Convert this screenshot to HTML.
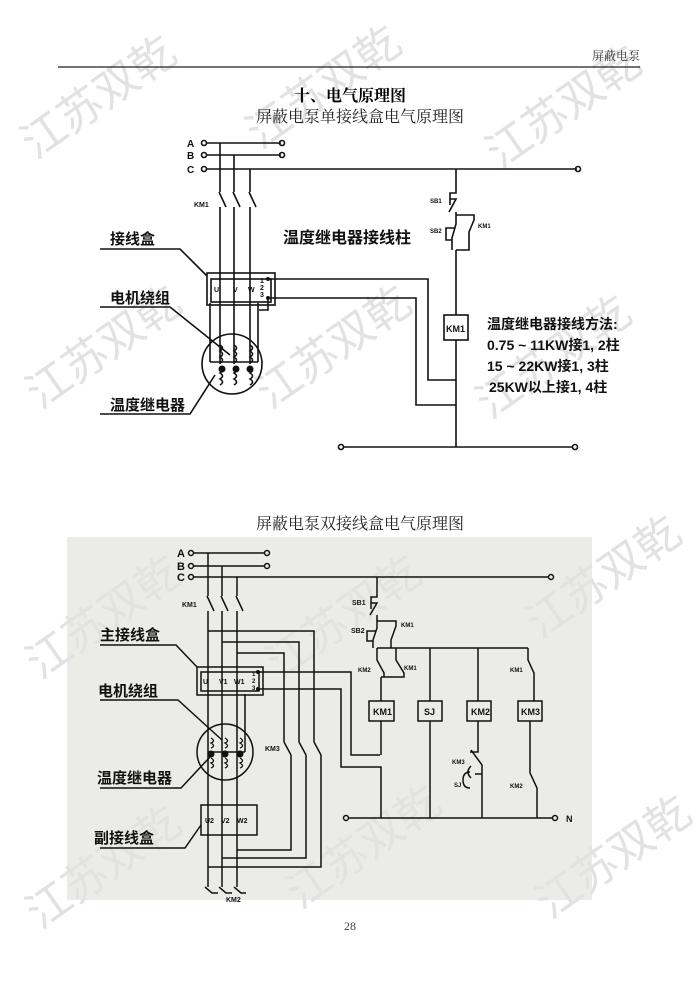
<!DOCTYPE html>
<html><head><meta charset="utf-8"><style>
html,body{margin:0;padding:0;background:#fff;}
svg{display:block;}
text{font-family:"Liberation Sans","Noto Sans CJK SC",sans-serif;}
.s{font-family:"Liberation Serif","Noto Serif CJK SC",serif;}
.w{font-family:"Noto Serif CJK SC","WenQuanYi Zen Hei",serif;fill:#e2e2e2;font-size:44px;}
</style></head><body>
<svg width="700" height="989" viewBox="0 0 700 989" xmlns="http://www.w3.org/2000/svg">
<rect width="700" height="989" fill="#fff"/>
<rect x="67" y="537" width="525" height="363" fill="#ebebe8"/>
<g class="w">
<text transform="translate(35,160) rotate(-35)">江苏双乾</text>
<text transform="translate(260,150) rotate(-35)">江苏双乾</text>
<text transform="translate(500,170) rotate(-35)">江苏双乾</text>
<text transform="translate(40,410) rotate(-35)">江苏双乾</text>
<text transform="translate(270,410) rotate(-35)">江苏双乾</text>
<text transform="translate(490,420) rotate(-35)">江苏双乾</text>
<text transform="translate(40,680) rotate(-35)">江苏双乾</text>
<text transform="translate(280,680) rotate(-35)">江苏双乾</text>
<text transform="translate(540,640) rotate(-35)">江苏双乾</text>
<text transform="translate(40,930) rotate(-35)">江苏双乾</text>
<text transform="translate(300,910) rotate(-35)">江苏双乾</text>
<text transform="translate(550,920) rotate(-35)">江苏双乾</text>
</g>
<text class="s" x="640" y="60" font-size="12" text-anchor="end" fill="#333">屏蔽电泵</text>
<line x1="58" y1="67" x2="640" y2="67" stroke="#222" stroke-width="1.2"/>
<text class="s" x="350" y="101" font-size="16" font-weight="bold" text-anchor="middle">十、电气原理图</text>
<text class="s" x="360" y="122" font-size="16" text-anchor="middle" fill="#222">屏蔽电泵单接线盒电气原理图</text>
<text class="s" x="360" y="529" font-size="16" text-anchor="middle" fill="#222">屏蔽电泵双接线盒电气原理图</text>
<text class="s" x="350" y="930" font-size="12" text-anchor="middle" fill="#444">28</text>

<g stroke="#111" stroke-width="1.6" fill="none">
<line x1="206" y1="143" x2="281" y2="143"/>
<line x1="206" y1="155" x2="281" y2="155"/>
<line x1="206" y1="169" x2="577" y2="169"/>
<circle cx="204" cy="143" r="2.5"/><circle cx="204" cy="155" r="2.5"/><circle cx="204" cy="169" r="2.5"/>
<circle cx="282" cy="143" r="2.5"/><circle cx="282" cy="155" r="2.5"/><circle cx="578" cy="169" r="2.5"/>
<path d="M220 143 V192 M234 155 V192 M250 169 V192"/>
<path d="M219 192 L226 207 M233 192 L240 207 M249 192 L256 207"/>
<path d="M220 207 V364 M234 207 V364 M250 207 V364"/>
<rect x="207" y="273" width="68" height="32"/>
<rect x="211" y="279" width="60" height="23"/>
<circle cx="232" cy="364" r="30"/>
<path d="M210 362 H258 M210 362 V303 M258 362 V303 M259 310 H268 V297"/>
<path d="M220 345 q5 3 0 6 q5 3 0 6 q5 3 0 6 M234 345 q5 3 0 6 q5 3 0 6 q5 3 0 6 M250 345 q5 3 0 6 q5 3 0 6 q5 3 0 6"/>
<path d="M220 367 q5 3 0 6 q5 3 0 6 q5 3 0 6 M234 367 q5 3 0 6 q5 3 0 6 q5 3 0 6 M250 367 q5 3 0 6 q5 3 0 6 q5 3 0 6"/>
<path d="M270 279 H428 V380 H456"/>
<path d="M270 298 H416 V405 H456"/>
<path d="M456 169 V193 H450 V205 M450 199 H456 L449 212 M456 212 V215"/>
<path d="M456 215 H474 V220 L469 232 V250 H456 M456 215 V224 L452 238 V250 M455 228 H446 V240 H452 M456 250 V315"/>
<rect x="444" y="315" width="24" height="25"/>
<path d="M456 340 V447"/>
<line x1="343" y1="447" x2="573" y2="447"/>
<circle cx="341" cy="447" r="2.5"/><circle cx="575" cy="447" r="2.5"/>
<path d="M100 249 H180 L207 276"/>
<path d="M100 307 H170 L230 355"/>
<path d="M100 414 H190 L215 375"/>
</g>
<g fill="#111">
<circle cx="222" cy="369" r="3.5"/><circle cx="236" cy="369" r="3.5"/><circle cx="250" cy="369" r="3.5"/>
<circle cx="268" cy="279" r="2"/><circle cx="268" cy="298" r="2"/>
</g>
<g fill="#111" font-weight="bold">
<text x="187" y="147" font-size="10">A</text><text x="187" y="159" font-size="10">B</text><text x="187" y="173" font-size="10">C</text>
<text x="194" y="207" font-size="7">KM1</text>
<text x="214" y="292" font-size="7">U</text><text x="233" y="292" font-size="7">V</text><text x="248" y="292" font-size="7">W</text>
<text x="260" y="283" font-size="7">1</text><text x="260" y="290" font-size="7">2</text><text x="260" y="297" font-size="7">3</text>
<text x="430" y="203" font-size="6">SB1</text><text x="430" y="233" font-size="6">SB2</text><text x="478" y="228" font-size="6">KM1</text>
<text x="446" y="332" font-size="9">KM1</text>
<text x="283" y="243" font-size="16">温度继电器接线柱</text>
<text x="110" y="244" font-size="15">接线盒</text>
<text x="110" y="303" font-size="15">电机绕组</text>
<text x="110" y="410" font-size="15">温度继电器</text>
<text x="487" y="329" font-size="14">温度继电器接线方法:</text>
<text x="487" y="350" font-size="14">0.75 ~ 11KW接1, 2柱</text>
<text x="487" y="371" font-size="14">15 ~ 22KW接1, 3柱</text>
<text x="489" y="392" font-size="14">25KW以上接1, 4柱</text>
</g>

<g stroke="#111" stroke-width="1.5" fill="none">
<line x1="193" y1="553" x2="265" y2="553"/>
<line x1="193" y1="566" x2="265" y2="566"/>
<line x1="193" y1="577" x2="549" y2="577"/>
<circle cx="191" cy="553" r="2.5"/><circle cx="191" cy="566" r="2.5"/><circle cx="191" cy="577" r="2.5"/>
<circle cx="267" cy="553" r="2.5"/><circle cx="267" cy="566" r="2.5"/><circle cx="551" cy="577" r="2.5"/>
<path d="M208 553 V596 M222 566 V596 M237 577 V596"/>
<path d="M207 596 L214 611 M221 596 L228 611 M236 596 L243 611"/>
<path d="M208 611 V887 M222 611 V887 M237 611 V887"/>
<path d="M208 631 H314 V742 M222 642 H299 V742 M237 653 H284 V742"/>
<path d="M284 742 L291 755 M299 742 L306 755 M314 742 L321 755"/>
<path d="M291 755 V850 H237 M306 755 V858 H222 M321 755 V867 H208"/>
<path d="M205 887 L212 893 H218 M219 887 L226 893 H232 M234 887 L241 893 H246"/>
<rect x="197" y="667" width="66" height="28"/>
<rect x="201" y="672" width="58" height="19"/>
<rect x="201" y="805" width="56" height="30"/>
<circle cx="225" cy="752" r="28"/>
<path d="M208 752 H245 M245 752 V694"/>
<path d="M259 672 H351 V755 H380"/>
<path d="M259 689 H341 V767 H381 V818"/>
<path d="M377 577 V597 H371 V609 M371 603 H377 L370 615 M377 615 V621"/>
<path d="M377 621 H396 V626 L391 640 V648 M377 621 V628 L373 640 V648 M376 631 H367 V641 H373"/>
<path d="M377 648 H528"/>
<path d="M377 648 V660 L384 673 V677 H381 M396 648 V660 L404 673 V677 H381 M381 677 V701"/>
<rect x="369" y="701" width="25" height="20"/>
<path d="M381 721 V755"/>
<path d="M430 648 V701"/><rect x="418" y="701" width="24" height="20"/><path d="M430 721 V818"/>
<path d="M478 648 V701"/><rect x="467" y="701" width="24" height="20"/>
<path d="M478 721 V752 L470 752 M471 750 L482 765 V806 M482 774 H475 M471 778 q-6 -6 0 -12 M470 772 q-7 0 -7 8 q0 8 7 8 M482 790 V818"/>
<path d="M528 648 V660 L534 673 V701"/><rect x="518" y="701" width="24" height="20"/>
<path d="M530 721 V773 L537 788 V818"/>
<line x1="348" y1="818" x2="553" y2="818"/>
<circle cx="346" cy="818" r="2.5"/><circle cx="555" cy="818" r="2.5"/>
<path d="M100 645 H176 L197 667"/>
<path d="M100 700 H178 L222 740"/>
<path d="M100 788 H181 L210 757"/>
<path d="M100 848 H185 L201 825"/>
</g>
<g fill="#111">
<circle cx="211" cy="754" r="3.5"/><circle cx="225" cy="754" r="3.5"/><circle cx="240" cy="754" r="3.5"/>
<circle cx="258" cy="672" r="2"/><circle cx="258" cy="689" r="2"/>
</g>
<g stroke="#111" stroke-width="1.3" fill="none">
<path d="M211 738 q5 3 0 5 q5 3 0 5 M225 738 q5 3 0 5 q5 3 0 5 M240 738 q5 3 0 5 q5 3 0 5"/>
<path d="M211 758 q5 3 0 5 q5 3 0 5 M225 758 q5 3 0 5 q5 3 0 5 M240 758 q5 3 0 5 q5 3 0 5"/>
</g>
<g fill="#111" font-weight="bold">
<text x="177" y="557" font-size="11">A</text><text x="177" y="570" font-size="11">B</text><text x="177" y="581" font-size="11">C</text>
<text x="182" y="607" font-size="7">KM1</text>
<text x="203" y="684" font-size="7">U</text><text x="219" y="684" font-size="7">V1</text><text x="234" y="684" font-size="7">W1</text>
<text x="205" y="823" font-size="7">U2</text><text x="221" y="823" font-size="7">V2</text><text x="237" y="823" font-size="7">W2</text>
<text x="252" y="676" font-size="6">1</text><text x="252" y="683" font-size="6">2</text><text x="252" y="690" font-size="6">3</text>
<text x="265" y="751" font-size="7">KM3</text>
<text x="226" y="902" font-size="7">KM2</text>
<text x="352" y="605" font-size="7">SB1</text><text x="351" y="633" font-size="7">SB2</text><text x="401" y="627" font-size="6">KM1</text>
<text x="358" y="672" font-size="6">KM2</text><text x="404" y="670" font-size="6">KM1</text>
<text x="510" y="672" font-size="6">KM1</text>
<text x="373" y="715" font-size="9">KM1</text><text x="424" y="715" font-size="9">SJ</text>
<text x="471" y="715" font-size="9">KM2</text><text x="521" y="715" font-size="9">KM3</text>
<text x="452" y="764" font-size="6">KM3</text><text x="454" y="787" font-size="6">SJ</text>
<text x="510" y="788" font-size="6">KM2</text>
<text x="566" y="822" font-size="9">N</text>
<text x="100" y="640" font-size="15">主接线盒</text>
<text x="98" y="696" font-size="15">电机绕组</text>
<text x="97" y="783" font-size="15">温度继电器</text>
<text x="94" y="843" font-size="15">副接线盒</text>
</g>
</svg>
</body></html>
